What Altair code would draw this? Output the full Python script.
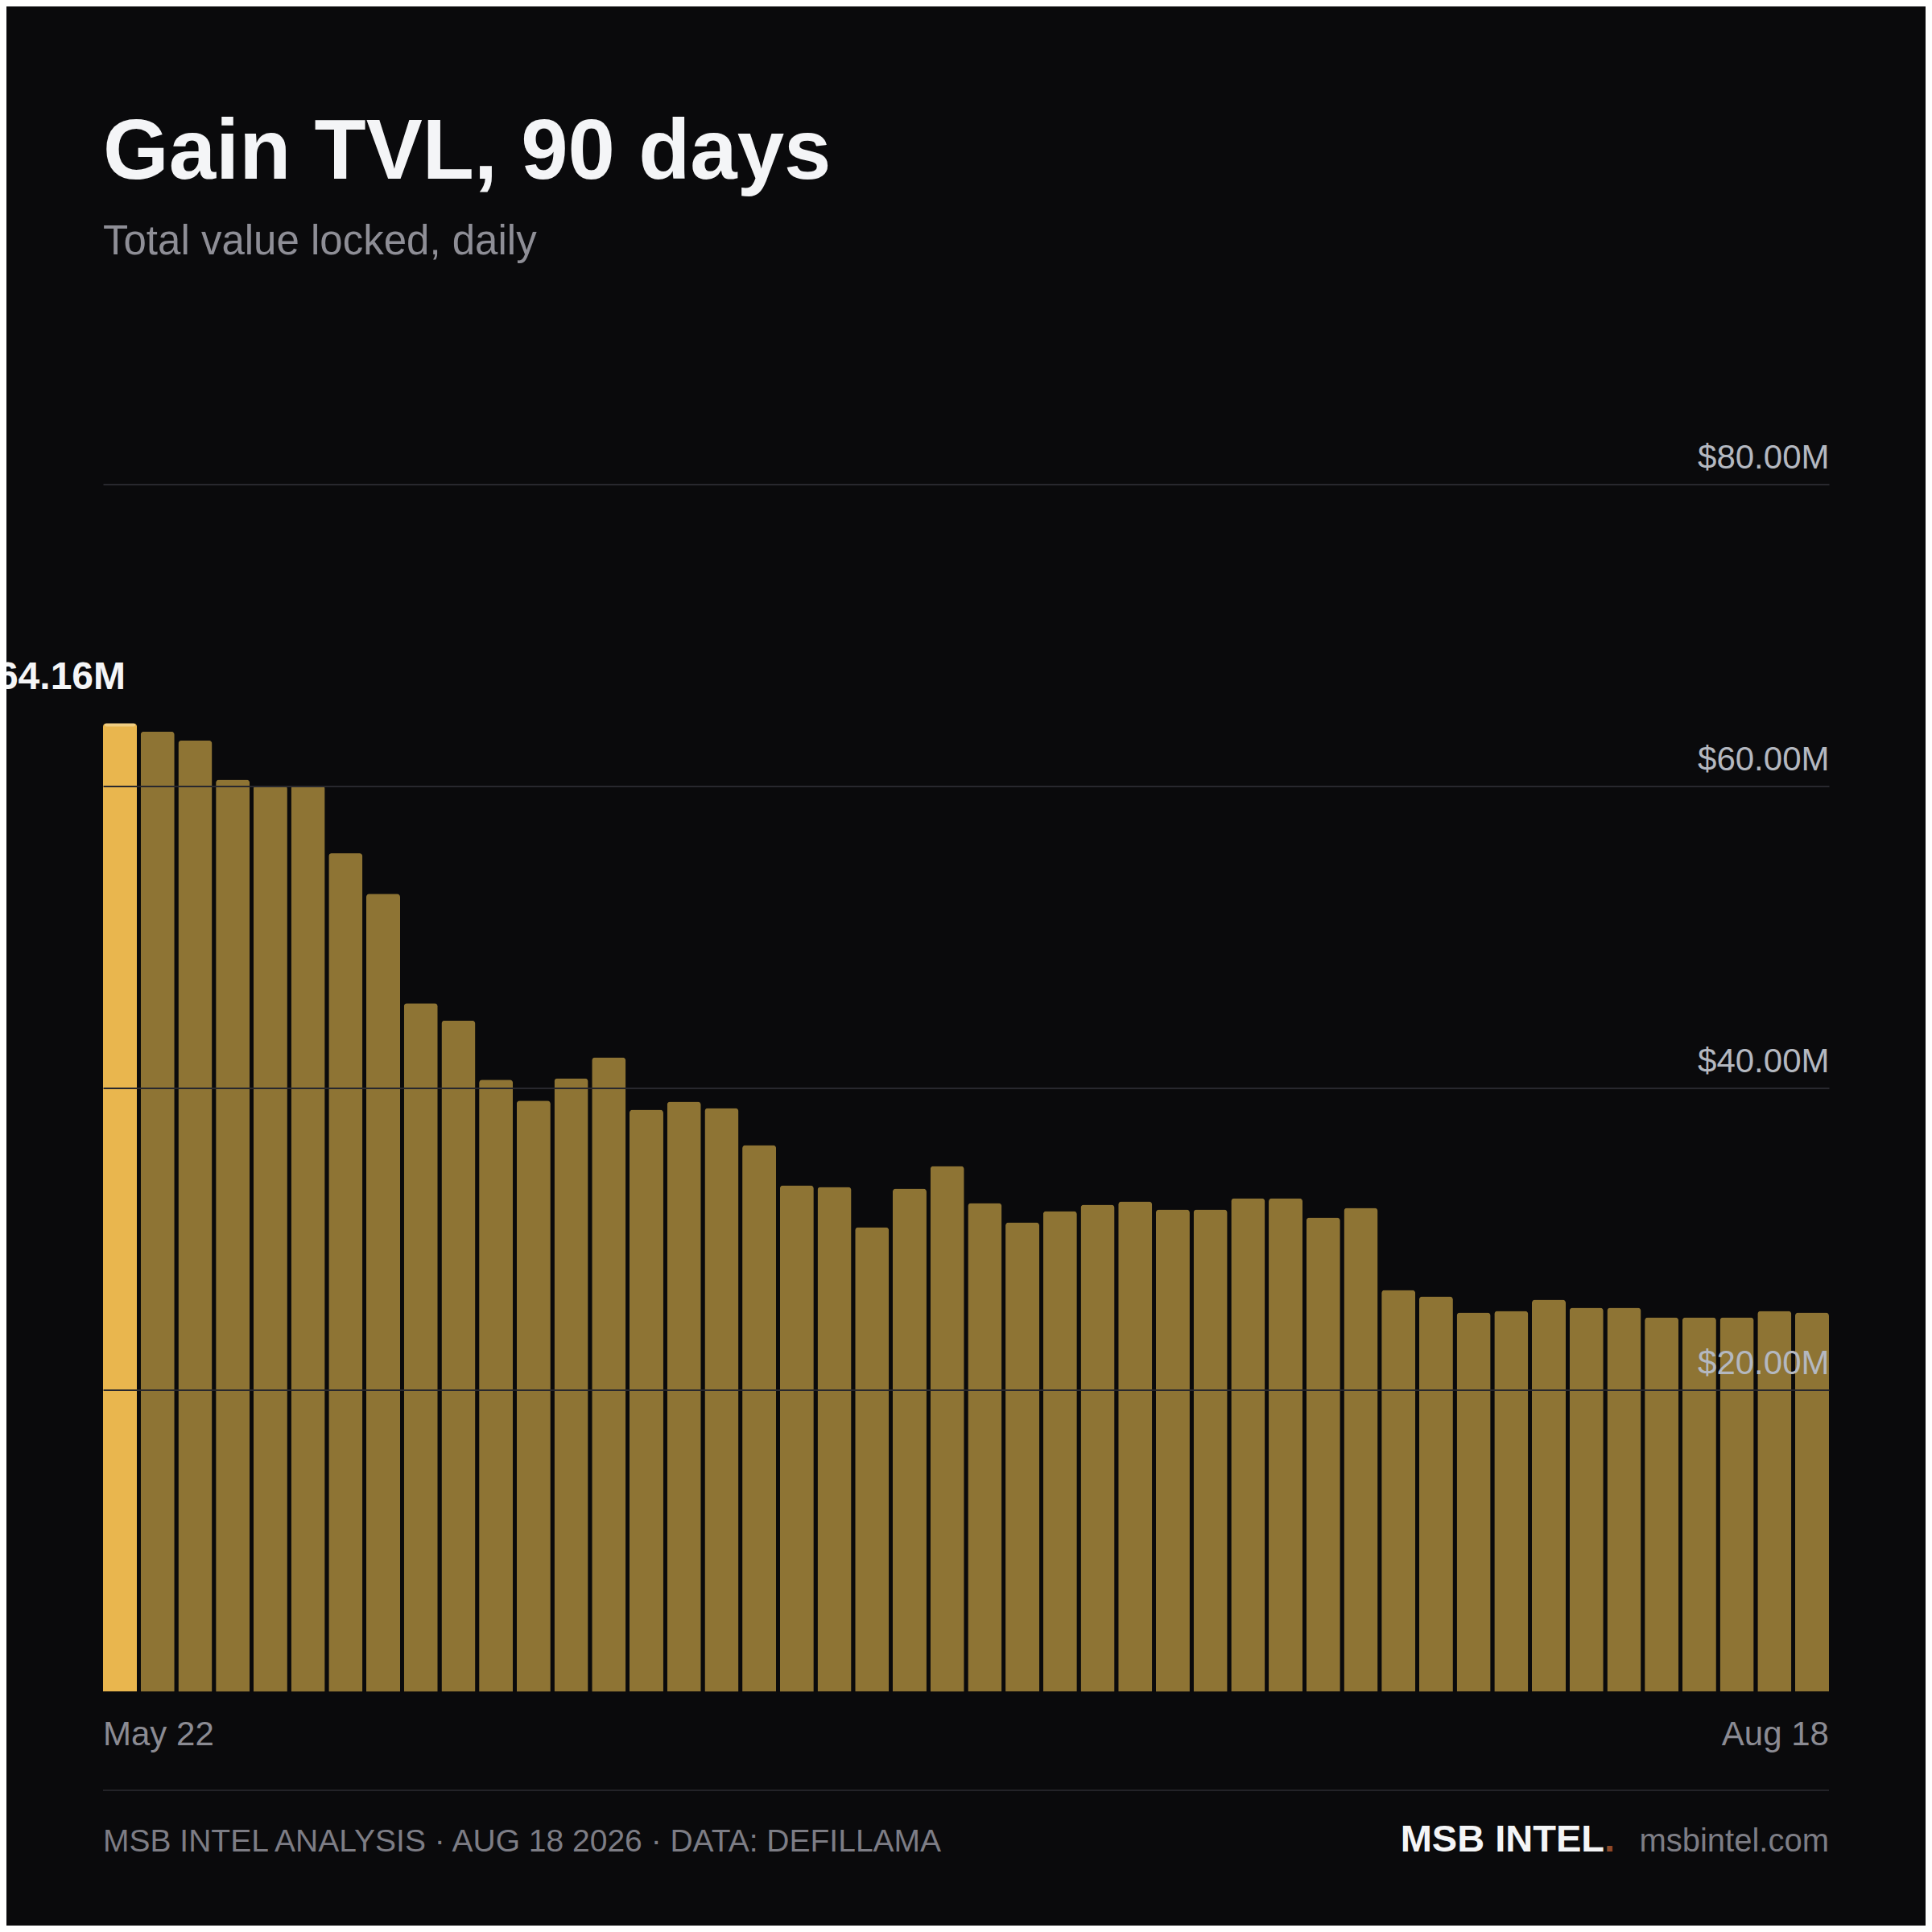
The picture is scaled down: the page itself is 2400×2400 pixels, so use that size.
import altair as alt
import pandas as pd

# ---- data ----
tvl_m = [64.16, 63.62, 63.02, 60.43, 60.03, 60.03, 55.55, 52.87, 45.62, 44.47,
         40.55, 39.16, 40.64, 42.03, 38.56, 39.09, 38.67, 36.21, 33.55, 33.44,
         30.77, 33.33, 34.83, 32.37, 31.09, 31.84, 32.27, 32.48, 31.95, 31.95,
         32.69, 32.69, 31.41, 32.05, 26.61, 26.19, 25.12, 25.23, 25.97, 25.44,
         25.44, 24.80, 24.80, 24.80, 25.23, 25.12]
day_index = list(range(1, len(tvl_m) + 1))
x_tick_labels = ["May 22", "Aug 18"]
y_ticks = [0, 20, 40, 60, 80]

title_text = "Gain TVL, 90 days"
subtitle_text = "Total value locked, daily"
footer_left = ["MSB INTEL ANALYSIS · AUG 18 2026 · DATA: DEFILLAMA"]
brand_name = ["MSB INTEL"]
brand_dot = ["."]
brand_url = ["msbintel.com"]

# ---- style ----
FONT = "Liberation Sans"
BG = "#0a0a0c"
HI = "#e9b64e"
BASE = "#8e7434"
W, H = 2144, 1500
N = len(tvl_m)

df = pd.DataFrame({"idx": day_index, "tvl": tvl_m})
base = alt.Chart(df)

x_enc = alt.X(
    "idx:O",
    scale=alt.Scale(paddingInner=0.1, paddingOuter=0),
    axis=alt.Axis(
        title=None,
        labelExpr=f"datum.value == 1 ? '{x_tick_labels[0]}' : datum.value == {N} ? '{x_tick_labels[1]}' : ''",
        labelAngle=0,
        labelAlign={"condition": {"test": "datum.value == 1", "value": "left"}, "value": "right"},
        labelOffset={"condition": {"test": "datum.value == 1", "value": -21}, "value": 21},
        labelBaseline="alphabetic",
        labelPadding=66,
        labelFontSize=42,
        labelColor="#8b8b93",
        labelFont=FONT,
        ticks=False,
        tickSize=0,
        domain=False,
        grid=False,
        labelOverlap=False,
    ),
)

y_enc = alt.Y(
    "tvl:Q",
    scale=alt.Scale(domain=[0, 80], nice=False),
    axis=alt.Axis(
        orient="right",
        values=y_ticks,
        title=None,
        labelExpr="datum.value == 0 ? '' : '$' + format(datum.value, '.2f') + 'M'",
        labelAlign="right",
        labelBaseline="alphabetic",
        labelOffset=-20,
        labelPadding=0,
        labelFontSize=42,
        labelColor="#b4b8c0",
        labelFont=FONT,
        ticks=False,
        tickSize=0,
        domain=False,
        grid=True,
        gridColor="#28282e",
        gridWidth=2,
        gridOpacity={"condition": {"test": "datum.value == 0", "value": 0}, "value": 1},
        zindex=1,
    ),
)

bars = base.mark_bar(cornerRadiusTopLeft=4, cornerRadiusTopRight=4).encode(
    x=x_enc,
    y=y_enc,
    color=alt.condition(alt.datum.idx == 1, alt.value(HI), alt.value(BASE)),
)

cap = base.transform_filter(alt.datum.idx == 1).mark_tick(
    thickness=4, size=38, color="#f3d898", yOffset=2, cornerRadius=2
).encode(x="idx:O", y="tvl:Q")

peak_label = base.transform_filter(alt.datum.idx == 1).transform_calculate(
    lbl="'$' + format(datum.tvl, '.2f') + 'M'"
).mark_text(
    align="right", baseline="alphabetic", dx=7, dy=-43,
    fontSize=48, fontWeight="bold", color="#f4f5f7", font=FONT
).encode(x="idx:O", y="tvl:Q", text="lbl:N")

footer_rule = alt.Chart(pd.DataFrame({"a": [0]})).mark_rule(
    color="#232328", strokeWidth=2
).encode(x=alt.value(0), x2=alt.value(W), y=alt.value(1622.5))

FOOT_Y = 1698.5
foot_left = alt.Chart(pd.DataFrame({"t": footer_left})).mark_text(
    align="left", baseline="alphabetic", fontSize=39,
    color="#7d7d85", font=FONT
).encode(x=alt.value(0), y=alt.value(FOOT_Y), text="t:N")

foot_brand = alt.Chart(pd.DataFrame({"t": brand_name})).mark_text(
    align="right", baseline="alphabetic", fontSize=47, fontWeight="bold",
    color="#f4f5f7", font=FONT
).encode(x=alt.value(1865), y=alt.value(FOOT_Y), text="t:N")

foot_dot = alt.Chart(pd.DataFrame({"t": brand_dot})).mark_text(
    align="left", baseline="alphabetic", fontSize=47, fontWeight="bold",
    color="#8f4a2a", font=FONT
).encode(x=alt.value(1865), y=alt.value(FOOT_Y), text="t:N")

foot_url = alt.Chart(pd.DataFrame({"t": brand_url})).mark_text(
    align="right", baseline="alphabetic", fontSize=40, color="#7d7d85", font=FONT
).encode(x=alt.value(W), y=alt.value(FOOT_Y), text="t:N")

chart = alt.layer(
    bars, cap, peak_label, footer_rule, foot_left, foot_brand, foot_dot, foot_url
).properties(
    width=W,
    height=H,
    title=alt.TitleParams(
        text=title_text,
        subtitle=subtitle_text,
        anchor="start",
        frame="group",
        offset=221,
        font=FONT,
        fontSize=105,
        fontWeight="bold",
        color="#f4f5f7",
        subtitleFont=FONT,
        subtitleFontSize=51,
        subtitleColor="#8e8e96",
        subtitlePadding=32,
    ),
    padding={"left": 120, "right": 120, "top": 593.5, "bottom": 290.5},
    autosize="none",
    background=BG,
).configure_view(stroke=None)

chart.save("out.html", embed_options={"renderer": "svg", "actions": False})
